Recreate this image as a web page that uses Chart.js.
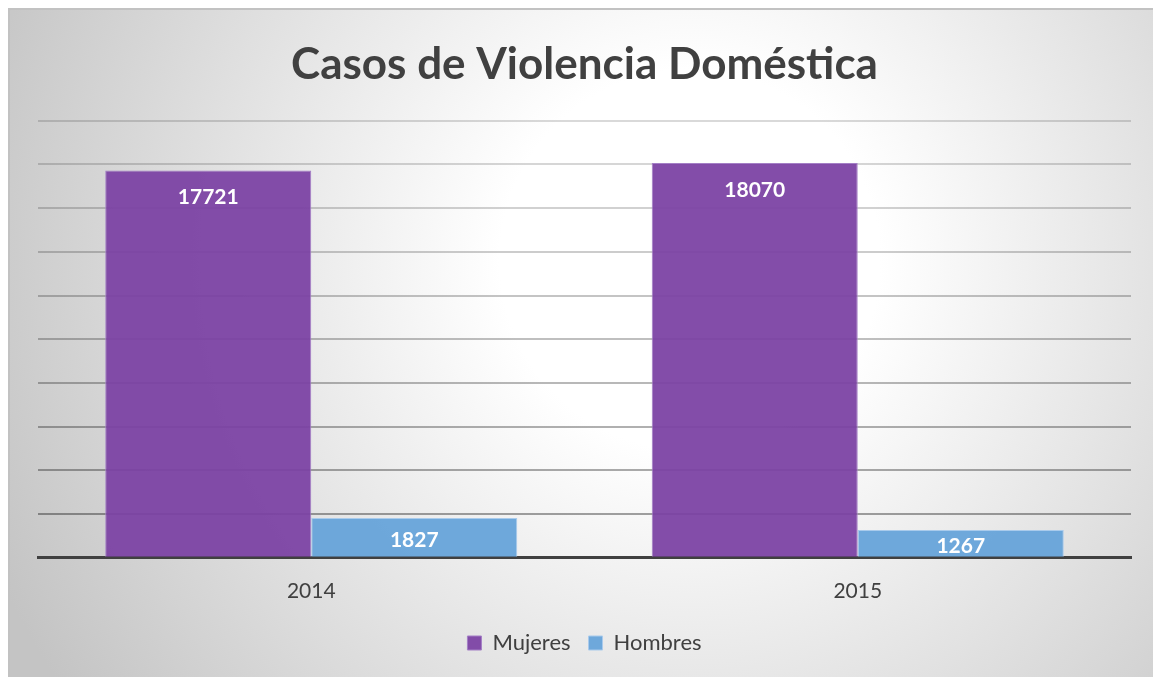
<!DOCTYPE html>
<html><head><meta charset="utf-8">
<script src="https://cdn.jsdelivr.net/npm/chart.js@4"></script>
<style>html,body{margin:0;padding:0;background:#fff;}#wrap{width:1153px;height:677px;position:relative;}</style>
</head><body><div id="wrap"><canvas id="c" width="1153" height="677"></canvas></div>
<script>
const categories = ['2014', '2015'];
const mujeres = [17721, 18070];
const hombres = [1827, 1267];
const seriesNames = ['Mujeres', 'Hombres'];
const yMax = 20000;
const yStep = 2000;
const titleText = 'Casos de Violencia Doméstica';

const bgPlugin = {
  id: 'bg',
  beforeDraw(chart) {
    const ctx = chart.ctx;
    ctx.save();
    ctx.fillStyle = '#ffffff';
    ctx.fillRect(0, 0, chart.width, chart.height);
    const g = ctx.createRadialGradient(690, 260, 0, 690, 260, 760);
    g.addColorStop(0, '#ffffff');
    g.addColorStop(0.25, '#ffffff');
    g.addColorStop(1, '#c4c4c4');
    ctx.fillStyle = g;
    ctx.fillRect(8, 8, chart.width - 8, chart.height - 8);
    ctx.strokeStyle = '#c2c2c2';
    ctx.lineWidth = 2;
    ctx.beginPath();
    ctx.moveTo(9, chart.height);
    ctx.lineTo(9, 9);
    ctx.lineTo(chart.width, 9);
    ctx.stroke();
    ctx.restore();
  }
};

const labelPlugin = {
  id: 'vlabels',
  afterDatasetsDraw(chart) {
    const ctx = chart.ctx;
    ctx.save();
    ctx.fillStyle = '#ffffff';
    ctx.font = 'bold 21px Lato, "Open Sans", sans-serif';
    ctx.textAlign = 'center';
    ctx.textBaseline = 'middle';
    chart.data.datasets.forEach((ds, di) => {
      const meta = chart.getDatasetMeta(di);
      meta.data.forEach((bar, i) => {
        const h = bar.base - bar.y;
        const off = Math.min(27, h / 2 + 3);
        ctx.fillText(String(ds.data[i]), bar.x, bar.y + off);
      });
    });
    ctx.restore();
  }
};

const gridAlphas = [0, 0.36, 0.33, 0.31, 0.28, 0.25, 0.23, 0.2, 0.18, 0.16, 0.15];

new Chart(document.getElementById('c'), {
  type: 'bar',
  data: {
    labels: categories,
    datasets: [
      { label: seriesNames[0], data: mujeres, backgroundColor: 'rgba(123,66,164,0.94)', borderColor: '#a47fc6', borderWidth: 1, borderSkipped: 'bottom' },
      { label: seriesNames[1], data: hombres, backgroundColor: 'rgba(104,164,218,0.96)', borderColor: '#a9cbec', borderWidth: 1, borderSkipped: 'bottom' }
    ]
  },
  options: {
    responsive: false,
    animation: false,
    devicePixelRatio: 1,
    layout: { padding: { left: 38, right: 22, top: 20, bottom: 13 } },
    datasets: { bar: { categoryPercentage: 0.754, barPercentage: 1.0 } },
    plugins: {
      title: {
        display: true,
        text: titleText,
        color: '#404040',
        font: { family: 'Lato, "Open Sans", sans-serif', size: 44, weight: 'bold' },
        padding: { top: 18, bottom: 30 }
      },
      legend: {
        display: true,
        position: 'bottom',
        labels: {
          color: '#404040',
          font: { family: 'Lato, "Open Sans", sans-serif', size: 22 },
          boxWidth: 14, boxHeight: 14, padding: 18
        }
      },
      tooltip: { enabled: false }
    },
    scales: {
      x: {
        grid: { display: false, drawTicks: false },
        border: { display: true, color: '#404040', width: 3 },
        ticks: { color: '#404040', font: { family: 'Lato, "Open Sans", sans-serif', size: 21 }, padding: 21 },
        afterFit: (scale) => { scale.height -= 11; }
      },
      y: {
        min: 0, max: yMax,
        ticks: { display: false, stepSize: yStep },
        grid: { drawTicks: false, lineWidth: 2, color: (c) => 'rgba(0,0,0,' + (gridAlphas[c.index] ?? 0.2) + ')' },
        border: { display: false }
      }
    }
  },
  plugins: [bgPlugin, labelPlugin]
});
</script></body></html>
